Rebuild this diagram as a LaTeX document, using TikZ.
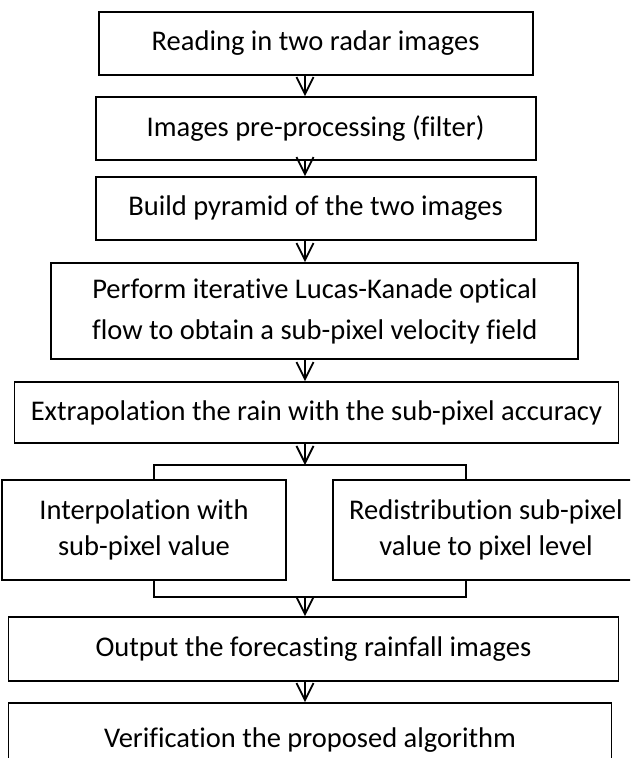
\documentclass[tikz,border=0pt]{standalone}
\usepackage{fontspec}
\setmainfont{Carlito}[Ligatures=NoCommon]
\usetikzlibrary{arrows.meta}
\tikzset{
  box/.style={draw=black, line width=1.8pt, rectangle, inner sep=0pt, align=center,
    font=\fontsize{28.5}{38}\selectfont},
  arr/.style={line width=1.8pt, -{Straight Barb[length=17pt,width=17pt,line width=1.8pt]}},
  ln/.style={line width=1.8pt}
}
\begin{document}
\begin{tikzpicture}[x=1pt,y=-1pt]
\useasboundingbox (0,0) rectangle (630,758);
\fill[white] (0,0) rectangle (630,758);
\begin{scope}
\clip (0,0) rectangle (630,758);
\node[box, minimum width=434pt, minimum height=63pt] (b1) at (315.6,43.5) {Reading in two radar images};
\node[box, minimum width=440pt, minimum height=63pt] (b2) at (315.6,128.5) {Images pre-processing (filter)};
\node[box, minimum width=440pt, minimum height=63pt] (b3) at (315.6,208.5) {Build pyramid of the two images};
\node[box, minimum width=527pt, minimum height=96pt, font=\fontsize{28.5}{41}\selectfont] (b4) at (314.8,311) {Perform iterative Lucas-Kanade optical\\flow to obtain a sub-pixel velocity field};
\node[box, minimum width=604pt, minimum height=61pt] (b5) at (316.4,412.5) {Extrapolation the rain with the sub-pixel accuracy};
\node[box, minimum width=284pt, minimum height=100pt, font=\fontsize{28.5}{36}\selectfont] (bl) at (144,530) {Interpolation with\\sub-pixel value};
\node[box, minimum width=306pt, minimum height=100pt, font=\fontsize{28.5}{36}\selectfont] (br) at (486,530) {Redistribution sub-pixel\\value to pixel level};
\node[box, minimum width=610pt, minimum height=64pt] (b6) at (313.4,649) {Output the forecasting rainfall images};
\node[box, minimum width=603pt, minimum height=74pt] (b7) at (310,740) {Verification the proposed algorithm};
\end{scope}
\coordinate (ax) at (305,0);
\coordinate (sl) at (154,465);
\coordinate (sr) at (466,465);
\coordinate (ml) at (154,597);
\coordinate (mr) at (466,597);
\draw[arr] (b1.south -| ax) -- (b2.north -| ax);
\draw[arr] (b2.south -| ax) -- (b3.north -| ax);
\draw[arr] (b3.south -| ax) -- (b4.north -| ax);
\draw[arr] (b4.south -| ax) -- (b5.north -| ax);
\draw[arr] (b5.south -| ax) -- (ax |- sl);
\draw[ln] (bl.north -| sl) -- (sl) -- (sr) -- (br.north -| sr);
\draw[ln] (bl.south -| ml) -- (ml) -- (mr) -- (br.south -| mr);
\draw[arr] (ax |- ml) -- (b6.north -| ax);
\draw[arr] (b6.south -| ax) -- (b7.north -| ax);
\end{tikzpicture}
\end{document}
